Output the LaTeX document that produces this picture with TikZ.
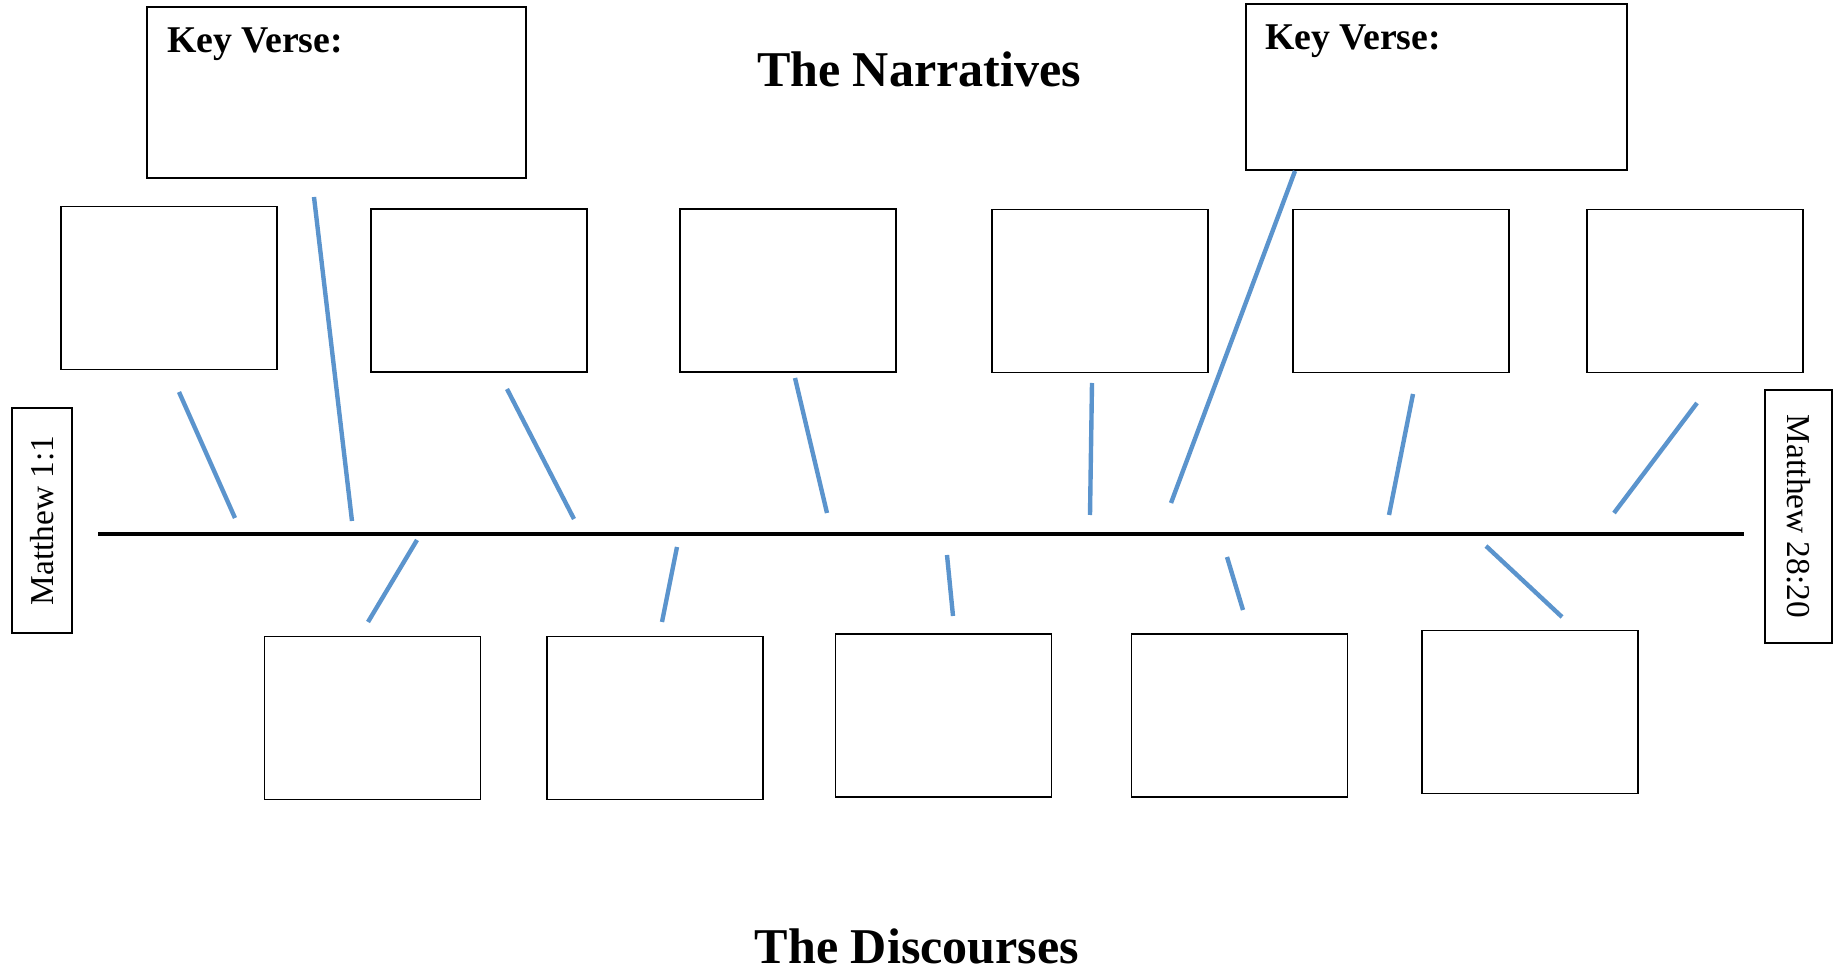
\documentclass[tikz,border=0pt]{standalone}
\usepackage{fontspec}
\setmainfont{Liberation Serif}
\usetikzlibrary{positioning}

\definecolor{boneblue}{RGB}{91,148,205}

\begin{document}
\begin{tikzpicture}[x=0.02cm, y=-0.02cm]
    \tikzstyle{every node}=[inner sep=0pt, outer sep=0pt]
    \tikzstyle{cell} = [draw, line width=1.1pt, rectangle, minimum width=4.32cm, minimum height=3.26cm]
    \tikzstyle{keybox} = [draw, line width=1.1pt, rectangle]
    \tikzstyle{ref} = [draw, line width=1.1pt, rectangle]
    \tikzstyle{reftext} = [font=\fontsize{19}{21}\selectfont]
    \tikzstyle{heading} = [font=\fontsize{28.5}{32}\selectfont\bfseries, anchor=base]
    \tikzstyle{keylabel} = [font=\fontsize{21.5}{24}\selectfont\bfseries, anchor=base west]
    \tikzstyle{bone} = [boneblue, line width=2.5pt]
    \tikzstyle{spine} = [black, line width=1.9pt]

    \fill[white] (0,0) rectangle (1843,972);
    \useasboundingbox (0,0) rectangle (1843,972);

    % titles
    \node[heading] (narr) at (919,87) {The Narratives};
    \node[heading] (disc) at (917,963) {The Discourses};

    % key verse boxes
    \node[keybox, minimum width=7.58cm, minimum height=3.42cm] (key1) at (336.5,92.5) {};
    \node[keybox, minimum width=7.62cm, minimum height=3.32cm] (key2) at (1436.5,87) {};
    \node[keylabel] (keytext1) at (167,53) {Key Verse:};
    \node[keylabel] (keytext2) at (1265,50) {Key Verse:};

    % narrative boxes
    \node[cell] (n1) at (169,288) {};
    \node[cell] (n2) at (479,290.5) {};
    \node[cell] (n3) at (788,290.5) {};
    \node[cell] (n4) at (1100,291) {};
    \node[cell] (n5) at (1401,291) {};
    \node[cell] (n6) at (1695,291) {};

    % discourse boxes
    \node[cell] (d1) at (372.5,718) {};
    \node[cell] (d2) at (655,718) {};
    \node[cell] (d3) at (943.5,715.5) {};
    \node[cell] (d4) at (1239.5,715.5) {};
    \node[cell] (d5) at (1530,712) {};

    % start and end references
    \node[ref, minimum width=1.2cm, minimum height=4.5cm] (first) at (42,520.5) {};
    \node[reftext, rotate=90] (firsttext) at (first.center) {Matthew 1:1};
    \node[ref, minimum width=1.34cm, minimum height=5.06cm] (last) at (1798.5,516.5) {};
    \node[reftext, rotate=-90] (lasttext) at (last.center) {Matthew 28:20};

    % the time line
    \coordinate (start) at (98,534);
    \coordinate (end) at (1744,534);
    \draw[spine] (start) -- (end);

    % bones above the line
    \foreach \xa/\ya/\xb/\yb in {179/392/235/518, 314/197/352/521, 507/389/574/519,
        795/378/827/513, 1092/383/1090/515, 1295/171/1171/503, 1413/394/1389/515,
        1697/403/1614/513}
        \draw[bone] (\xa,\ya) -- (\xb,\yb);

    % bones below the line
    \foreach \xa/\ya/\xb/\yb in {417/540/368/622, 677/547/662/622, 947/555/953/616,
        1227/557/1243/610, 1486/546/1562/617}
        \draw[bone] (\xa,\ya) -- (\xb,\yb);
\end{tikzpicture}
\end{document}
